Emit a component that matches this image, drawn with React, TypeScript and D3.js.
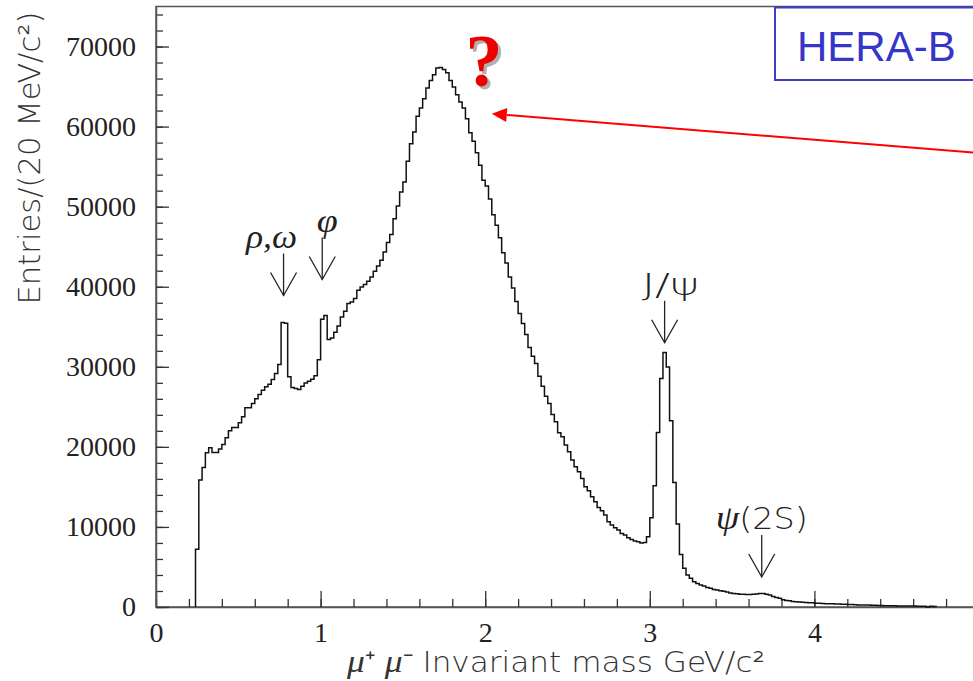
import React, { useEffect, useRef } from 'react';
import * as d3 from 'd3';

// dimuon mass histogram, 20 MeV bins starting at 0.24 GeV
const binStart = 0.24;
const binWidth = 0.02;

// entries per bin
const entries = [
  7200, 15850, 17430, 19260, 19890, 19300, 19300, 19720, 20300, 21130,
  22000, 22420, 22420, 23000, 23750, 24880, 24880, 25420, 26000, 26540,
  27080, 27500, 27830, 28410, 29160, 30280, 35530, 35440, 28750, 27410,
  27290, 27160, 27580, 27990, 28200, 28450, 28870, 30870, 35940, 36400,
  33400, 33610, 34320, 35110, 36230, 36940, 37900, 38100, 38520, 39560,
  39980, 40270, 40680, 41230, 41930, 42600, 43300, 44340, 45510, 46510,
  48500, 50090, 51830, 53080, 55660, 57860, 59320, 61280, 62320, 63480,
  64810, 65770, 66480, 67310, 67390, 67140, 66730, 65770, 64940, 63980,
  63060, 62320, 60990, 59240, 58160, 56740, 55160, 53290, 52580, 50960,
  49000, 47670, 46130, 44260, 42970, 41230, 39850, 38150, 36650, 35400,
  34030, 32410, 31320, 30410, 28830, 27580, 26330, 25420, 24040, 23130,
  21750, 21260, 20220, 19390, 18350, 17510, 16890, 16060, 15020, 14520,
  13770, 13150, 12440, 12020, 11480, 10650, 10230, 9900, 9610, 9190,
  8990, 8640, 8440, 8240, 8150, 7990, 8070, 8780, 11150, 15140,
  21800, 28540, 31780, 29990, 23250, 15560, 10360, 6570, 4830, 3990,
  3580, 3160, 2950, 2750, 2620, 2450, 2330, 2200, 2120, 2040,
  1960, 1860, 1760, 1700, 1640, 1600, 1580, 1560, 1560, 1580,
  1620, 1680, 1700, 1600, 1500, 1300, 1180, 1100, 900, 800,
  780, 700, 660, 640, 600, 560, 540, 520, 480, 460,
  450, 420, 410, 400, 390, 370, 340, 330, 320, 300,
  270, 260, 250, 250, 240, 230, 220, 200, 180, 170,
  160, 150, 150, 140, 140, 130, 120, 120, 110, 100,
  90, 90, 0, 80, 70,
];

const xTickLabels = [0, 1, 2, 3, 4, 5];
const yTickLabels = [0, 10000, 20000, 30000, 40000, 50000, 60000, 70000];

// resonances marked with arrows: label pieces [greek, plain], mass (GeV), count at arrow tip
const resonanceNames: [string, string][] = [['ρ,ω', ''], ['φ', ''], ['', 'J/ψ'], ['ψ', '(2S)']];
const resonanceMass = [0.775, 1.01, 3.09, 3.68];
const resonanceTip = [38900, 40900, 33000, 3750];

const HeraBMassPlot = () => {
  const svgRef = useRef<SVGSVGElement>(null);

  useEffect(() => {
    const svg = d3.select(svgRef.current);
    svg.selectAll('*').remove();

    const x = d3.scaleLinear().domain([0, 5]).range([156, 979]);
    const y = d3.scaleLinear().domain([0, 75000]).range([607, 6.5]);

    svg.append('rect').attr('width', 973).attr('height', 681).attr('fill', '#fff');

    // frame
    svg.append('rect')
      .attr('x', x(0)).attr('y', y(75000))
      .attr('width', x(5) - x(0)).attr('height', y(0) - y(75000))
      .attr('fill', 'none').attr('stroke', '#555').attr('stroke-width', 1.5);

    // x axis: minor then major ticks, pointing inwards
    const xMinor = d3.range(0, 5.001, 0.2);
    svg.append('g')
      .attr('transform', `translate(0,${y(0)})`)
      .call(d3.axisBottom(x).tickValues(xMinor).tickSize(-8).tickSizeOuter(0).tickFormat(() => ''))
      .call(g => g.select('.domain').remove())
      .selectAll('line').attr('stroke', '#333').attr('stroke-width', 1.3);

    const xAxis = svg.append('g')
      .attr('transform', `translate(0,${y(0)})`)
      .call(d3.axisBottom(x).tickValues(xTickLabels).tickSize(-16).tickSizeOuter(0).tickPadding(15).tickFormat(d3.format('d')));
    xAxis.select('.domain').attr('stroke', '#555').attr('stroke-width', 1.5);
    xAxis.selectAll('line').attr('stroke', '#333').attr('stroke-width', 1.3);
    xAxis.selectAll('text')
      .attr('font-family', '"Liberation Serif", serif')
      .attr('font-size', 28).attr('fill', '#222');

    // y axis
    const yMinor = d3.range(0, 75001, 2000);
    svg.append('g')
      .attr('transform', `translate(${x(0)},0)`)
      .call(d3.axisLeft(y).tickValues(yMinor).tickSize(-7).tickSizeOuter(0).tickFormat(() => ''))
      .call(g => g.select('.domain').remove())
      .selectAll('line').attr('stroke', '#333').attr('stroke-width', 1.3);

    const yAxis = svg.append('g')
      .attr('transform', `translate(${x(0)},0)`)
      .call(d3.axisLeft(y).tickValues(yTickLabels).tickSize(-13).tickSizeOuter(0).tickPadding(20).tickFormat(d3.format('d')));
    yAxis.select('.domain').attr('stroke', '#555').attr('stroke-width', 1.5);
    yAxis.selectAll('line').attr('stroke', '#333').attr('stroke-width', 1.3);
    yAxis.selectAll('text')
      .attr('font-family', '"Liberation Serif", serif')
      .attr('font-size', 28).attr('fill', '#222');

    // histogram outline
    const pts: [number, number][] = [[binStart, 0]];
    entries.forEach((v, i) => pts.push([binStart + i * binWidth, v]));
    const binEnd = binStart + entries.length * binWidth;
    pts.push([binEnd, entries[entries.length - 1]]);
    pts.push([binEnd, 0]);

    const line = d3.line<[number, number]>()
      .x(d => x(d[0]))
      .y(d => y(d[1]))
      .curve(d3.curveStepAfter);

    svg.append('path')
      .attr('d', line(pts))
      .attr('fill', 'none')
      .attr('stroke', '#111')
      .attr('stroke-width', 1.5);

    // axis titles
    svg.append('text')
      .attr('transform', `translate(40,158) rotate(-90)`)
      .attr('text-anchor', 'middle')
      .attr('font-family', '"DejaVu Sans", sans-serif')
      .attr('font-weight', 200)
      .attr('font-size', 30)
      .attr('fill', '#333')
      .attr('textLength', 293)
      .attr('lengthAdjust', 'spacingAndGlyphs')
      .text('Entries/(20 MeV/c²)');

    const xt = svg.append('text')
      .attr('x', 556).attr('y', 672)
      .attr('text-anchor', 'middle')
      .attr('font-family', '"DejaVu Sans", sans-serif')
      .attr('font-weight', 200)
      .attr('font-size', 28)
      .attr('fill', '#333')
      .attr('textLength', 418)
      .attr('lengthAdjust', 'spacingAndGlyphs');
    xt.append('tspan').attr('font-style', 'italic').attr('font-family', '"Liberation Serif", serif').attr('font-size', 32).text('μ');
    xt.append('tspan').text('⁺ ');
    xt.append('tspan').attr('font-style', 'italic').attr('font-family', '"Liberation Serif", serif').attr('font-size', 32).text('μ');
    xt.append('tspan').text('⁻ Invariant mass GeV/c²');

    // resonance arrows
    const labelDx = [-12, 5, 6, 0];
    const labelWidth = [51, 21, 57, 92];
    resonanceNames.forEach(([greek, plain], i) => {
      const ax = x(resonanceMass[i]);
      const tip = y(resonanceTip[i]);
      const top = tip - 42;
      const g = svg.append('g').attr('stroke', '#222').attr('stroke-width', 1.3).attr('fill', 'none');
      g.append('line').attr('x1', ax).attr('x2', ax).attr('y1', top).attr('y2', tip);
      g.append('path').attr('d', `M${ax - 13},${tip - 23}L${ax},${tip}L${ax + 13},${tip - 23}`);
      const t = svg.append('text')
        .attr('x', ax + labelDx[i]).attr('y', top - 6)
        .attr('text-anchor', 'middle')
        .attr('font-family', '"DejaVu Sans", sans-serif')
        .attr('font-weight', 200)
        .attr('font-size', 30)
        .attr('fill', '#222')
        .attr('textLength', labelWidth[i])
        .attr('lengthAdjust', 'spacingAndGlyphs');
      if (greek) {
        t.append('tspan')
          .attr('font-family', '"Liberation Serif", serif')
          .attr('font-style', 'italic')
          .attr('font-size', 34)
          .text(greek);
      }
      if (plain) t.append('tspan').text(plain);
    });

    // red pointer to the broad bump
    const tipX = x(2.04);
    const tipY = y(61600);
    const tailX = x(5.0);
    const tailY = y(56700);
    const ang = Math.atan2(tailY - tipY, tailX - tipX);
    const headLen = 15;
    const headW = 7;
    const bx = tipX + headLen * Math.cos(ang);
    const by = tipY + headLen * Math.sin(ang);
    svg.append('line')
      .attr('x1', bx).attr('y1', by).attr('x2', tailX).attr('y2', tailY)
      .attr('stroke', '#f00').attr('stroke-width', 2);
    svg.append('path')
      .attr('d', `M${tipX},${tipY}L${bx - headW * Math.sin(ang)},${by + headW * Math.cos(ang)}L${bx + headW * Math.sin(ang)},${by - headW * Math.cos(ang)}Z`)
      .attr('fill', '#f00');

    // question mark with shadow
    svg.append('text')
      .attr('x', 487).attr('y', 89)
      .attr('text-anchor', 'middle')
      .attr('font-family', '"Liberation Serif", serif')
      .attr('font-weight', 'bold')
      .attr('font-size', 74)
      .attr('fill', '#b0b0b0')
      .text('?');
    svg.append('text')
      .attr('x', 484).attr('y', 86)
      .attr('text-anchor', 'middle')
      .attr('font-family', '"Liberation Serif", serif')
      .attr('font-weight', 'bold')
      .attr('font-size', 74)
      .attr('fill', '#ee0000')
      .text('?');

    // experiment label
    svg.append('rect')
      .attr('x', 775).attr('y', 7.5).attr('width', 230).attr('height', 72.5)
      .attr('fill', '#fff').attr('stroke', '#3c3cc8').attr('stroke-width', 2);
    svg.append('text')
      .attr('x', 797).attr('y', 61)
      .attr('font-family', '"Liberation Sans", Arial, sans-serif')
      .attr('font-size', 42)
      .attr('fill', '#3535c8')
      .text('HERA-B');
  }, []);

  return (
    <svg ref={svgRef} width={973} height={681} style={{ position: 'absolute', left: 0, top: 0 }}></svg>
  );
};

export default function App() {
  return <HeraBMassPlot />;
}
